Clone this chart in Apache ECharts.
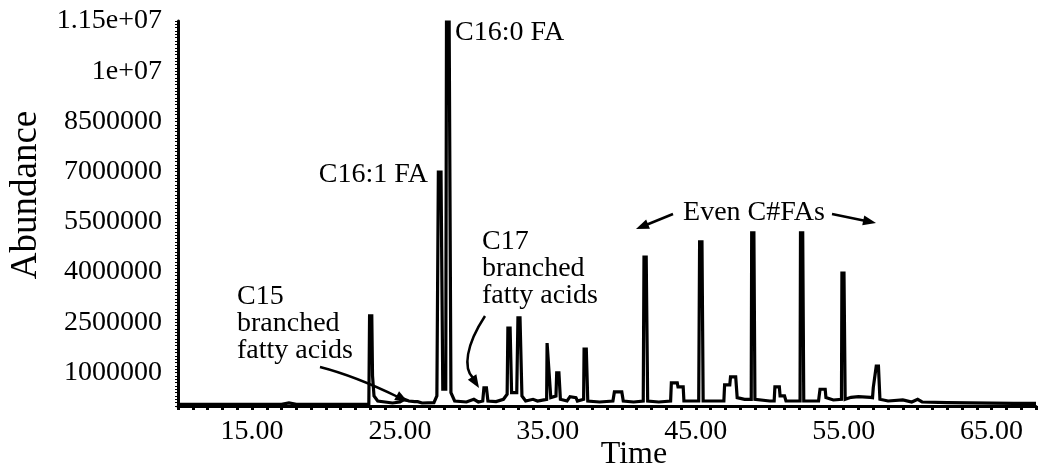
<!DOCTYPE html>
<html><head><meta charset="utf-8">
<script src="https://cdn.jsdelivr.net/npm/echarts@6/dist/echarts.min.js"></script>
<style>html,body{margin:0;padding:0;background:#fff}#c{width:1043px;height:472px}</style>
</head><body><div id="c"></div>
<script>
// Retention time (min) and abundance
const times = [
  10.0, 17.0, 17.5, 18.0, 22.9, 22.95, 23.1, 23.15, 23.25, 23.5, 24.5, 25.0, 25.3, 25.6, 26.0, 26.2, 26.5,
  27.3, 27.5, 27.6, 27.78, 27.9, 28.1, 28.15, 28.33, 28.45, 28.7, 29.5, 30.0, 30.3, 30.6, 30.68, 30.85, 30.95,
  31.5, 32.0, 32.25, 32.3, 32.45, 32.55, 32.9, 32.98, 33.12, 33.25, 33.5, 34.0, 34.3, 34.92, 34.95, 35.08, 35.2,
  35.55, 35.6, 35.75, 35.85, 36.3, 36.5, 36.9, 37.0, 37.42, 37.45, 37.6, 37.7, 38.5, 39.4, 39.5, 40.0, 40.1,
  40.8, 41.45, 41.5, 41.65, 41.75, 42.5, 43.3, 43.35, 43.75, 43.8, 44.15, 44.2, 45.2, 45.26, 45.42, 45.5,
  46.5, 46.9, 46.95, 47.3, 47.35, 47.7, 47.8, 48.3, 48.75, 48.78, 48.93, 49.0, 50.0, 50.3, 50.35, 50.65, 50.7,
  51.0, 51.1, 52.05, 52.08, 52.23, 52.3, 53.3, 53.4, 53.75, 53.8, 54.3, 54.85, 54.88, 55.02, 55.1, 55.5, 56.0,
  56.8, 56.95, 57.0, 57.2, 57.35, 57.45, 58.0, 59.0, 59.6, 60.0, 60.3, 62.0, 66.5, 68.0
];
const abundance = [
  50000, 50000, 90000, 50000, 60000, 2690000, 2690000, 900000, 300000, 150000, 90000, 120000, 200000, 150000, 130000, 130000, 90000,
  100000, 300000, 6990000, 6990000, 500000, 500000, 11470000, 11470000, 400000, 150000, 120000, 200000, 120000, 150000, 540000, 540000, 150000,
  130000, 200000, 350000, 2330000, 2330000, 400000, 400000, 2630000, 2630000, 300000, 150000, 200000, 150000, 200000, 1880000, 1880000, 250000,
  300000, 990000, 990000, 200000, 150000, 280000, 250000, 150000, 200000, 1700000, 1700000, 150000, 120000, 150000, 420000, 420000, 150000,
  120000, 150000, 4450000, 4450000, 150000, 120000, 150000, 690000, 690000, 570000, 570000, 150000, 150000, 4900000, 4900000, 150000,
  150000, 150000, 630000, 630000, 870000, 870000, 250000, 200000, 200000, 5170000, 5170000, 200000, 150000, 150000, 570000, 570000, 300000,
  300000, 150000, 150000, 5170000, 5170000, 150000, 150000, 500000, 500000, 250000, 180000, 200000, 3970000, 3970000, 200000, 260000, 280000,
  260000, 250000, 550000, 1190000, 1190000, 200000, 150000, 180000, 120000, 200000, 120000, 100000, 80000, 80000
];
const yTickValues = [1000000, 2500000, 4000000, 5500000, 7000000, 8500000, 10000000, 11500000];
const yTickTexts = ['1000000', '2500000', '4000000', '5500000', '7000000', '8500000', '1e+07', '1.15e+07'];
const xTickValues = [15, 25, 35, 45, 55, 65];

const FONT = '"Liberation Serif", "Times New Roman", serif';
const chart = echarts.init(document.getElementById('c'));

function arrowHead(tip, from, len, half) {
  const dx = tip[0] - from[0], dy = tip[1] - from[1];
  const d = Math.hypot(dx, dy), ux = dx / d, uy = dy / d;
  const bx = tip[0] - ux * len, by = tip[1] - uy * len;
  return {
    type: 'polygon', silent: true,
    shape: { points: [tip, [bx - uy * half, by + ux * half], [bx + uy * half, by - ux * half]] },
    style: { fill: '#000' }
  };
}
function txt(text, x, y, align) {
  return { type: 'text', silent: true, x: x, y: y,
    style: { text: text, font: '28px ' + FONT, fill: '#000', textAlign: align || 'left', textVerticalAlign: 'middle' } };
}

const graphics = [
  { type: 'text', silent: true, x: 26, y: 195, rotation: Math.PI / 2,
    style: { text: 'Abundance', font: '37px ' + FONT, fill: '#000', textAlign: 'center', textVerticalAlign: 'middle' } },
  { type: 'text', silent: true, x: 634, y: 455,
    style: { text: 'Time', font: '32px ' + FONT, fill: '#000', textAlign: 'center', textVerticalAlign: 'middle' } },
  txt('C16:0 FA', 455, 33),
  txt('C16:1 FA', 428, 175, 'right'),
  txt('C15', 237, 297), txt('branched', 237, 324), txt('fatty acids', 237, 351),
  txt('C17', 482, 242), txt('branched', 482, 269), txt('fatty acids', 482, 296),
  txt('Even C#FAs', 754, 213, 'center'),
  // arrows
  { type: 'line', silent: true, shape: { x1: 673, y1: 214, x2: 646, y2: 225 }, style: { stroke: '#000', lineWidth: 2.5 } },
  arrowHead([636, 229], [673, 214], 13, 5),
  { type: 'line', silent: true, shape: { x1: 832, y1: 214, x2: 866, y2: 221 }, style: { stroke: '#000', lineWidth: 2.5 } },
  arrowHead([876, 223], [832, 214], 13, 5),
  { type: 'bezierCurve', silent: true, shape: { x1: 320, y1: 367, x2: 398, y2: 397, cpx1: 355, cpy1: 376 },
    style: { stroke: '#000', lineWidth: 2.5, fill: null } },
  arrowHead([408, 402], [390, 392], 13, 5),
  { type: 'bezierCurve', silent: true, shape: { x1: 485, y1: 316, x2: 473, y2: 378, cpx1: 466, cpy1: 345, cpx2: 463, cpy2: 368 },
    style: { stroke: '#000', lineWidth: 2.5, fill: null } },
  arrowHead([479, 388], [469, 372], 13, 5)
];

chart.setOption({
  animation: false,
  backgroundColor: '#fff',
  grid: { left: 178, right: 7, top: 21, bottom: 66 },
  xAxis: {
    type: 'value', min: 10, max: 68, interval: 1,
    axisLine: { show: true, onZero: false, lineStyle: { color: '#000', width: 3 } },
    axisTick: { show: true, length: 4, lineStyle: { color: '#000', width: 3 } },
    splitLine: { show: false },
    axisLabel: {
      margin: 12, color: '#000', fontFamily: FONT, fontSize: 28, hideOverlap: false,
      formatter: v => xTickValues.indexOf(v) >= 0 ? v.toFixed(2) : ''
    }
  },
  yAxis: {
    type: 'value', min: 0, max: 11500000, interval: 500000,
    axisLine: { show: true, lineStyle: { color: '#000', width: 3 } },
    axisTick: { show: true, length: 3, lineStyle: { color: '#000', width: 1 } },
    minorTick: { show: true, splitNumber: 5, length: 3, lineStyle: { color: '#000', width: 1 } },
    splitLine: { show: false },
    axisLabel: {
      margin: 16, color: '#000', fontFamily: FONT, fontSize: 28, hideOverlap: false,
      formatter: v => { const i = yTickValues.indexOf(v); return i >= 0 ? yTickTexts[i] : ''; }
    }
  },
  series: [{
    type: 'line', showSymbol: false, symbol: 'none',
    lineStyle: { color: '#000', width: 3.2, join: 'miter', miterLimit: 2 },
    data: times.map((t, i) => [t, abundance[i]])
  }],
  graphic: graphics
});
</script></body></html>
